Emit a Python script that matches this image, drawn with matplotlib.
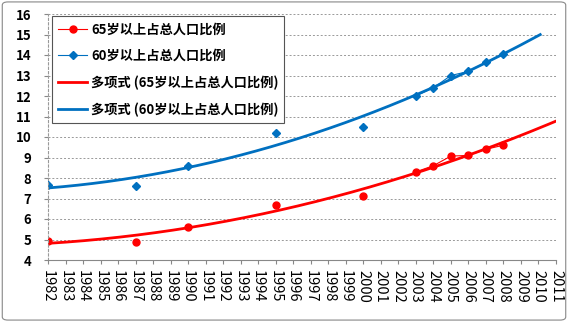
import numpy as np
import matplotlib
matplotlib.use('Agg')
import matplotlib.pyplot as plt
from matplotlib.patches import FancyBboxPatch

plt.rcParams['font.family'] = ['Noto Sans CJK SC', 'DejaVu Sans']

# data (percent of total population), NaN = no value for that year
years = list(range(1982, 2009))
obs_years = [1982, 1987, 1990, 1995, 2000, 2003, 2004, 2005, 2006, 2007, 2008]
pct65 = [4.95, 4.9, 5.6, 6.7, 7.1, 8.3, 8.6, 9.07, 9.1, 9.4, 9.6]
pct60 = [7.65, 7.6, 8.6, 10.2, 10.5, 12.0, 12.4, 13.0, 13.2, 13.65, 14.05]
label65 = '65岁以上占总人口比例'
label60 = '60岁以上占总人口比例'
xticks = list(range(1982, 2012))
yticks = list(range(4, 17))

red = '#FF0000'
blue = '#0070C0'

def fill(vals):
    s = np.full(len(years), np.nan)
    for y, v in zip(obs_years, vals):
        s[years.index(y)] = v
    return s

fig = plt.figure(figsize=(5.68, 3.22), dpi=100)
ax = fig.add_axes([48/568, 1-260/322, 508/568, 246/322])

ax.plot(years, fill(pct65), color=red, lw=0.8, marker='o', ms=5, label=label65)
ax.plot(years, fill(pct60), color=blue, lw=0.8, marker='D', ms=4.2, label=label60)

# 2nd order polynomial trend lines (forecast forward)
c65 = np.polyfit(obs_years, pct65, 2)
c60 = np.polyfit(obs_years, pct60, 2)
xt65 = np.linspace(1982, 2011, 200)
xt60 = np.linspace(1982, 2010.1, 200)
ax.plot(xt65, np.polyval(c65, xt65), color=red, lw=2, label='多项式 (' + label65 + ')')
ax.plot(xt60, np.polyval(c60, xt60), color=blue, lw=2, label='多项式 (' + label60 + ')')

ax.set_xlim(1982, 2011)
ax.set_ylim(4, 16)
ax.set_xticks(xticks)
ax.set_xticklabels([str(x) for x in xticks], rotation=270, fontsize=10.5)
ax.set_yticks(yticks)
ax.set_yticklabels([str(y) for y in yticks], fontsize=9.5, fontweight='bold')
ax.grid(axis='y', color='#999999', ls=(0, (2, 2)), lw=0.7)
for s in ['top', 'right']:
    ax.spines[s].set_visible(False)
ax.spines['left'].set_color('#999999')
ax.spines['left'].set_linestyle((0, (2, 2)))
ax.spines['bottom'].set_color('#888888')
ax.tick_params(axis='x', length=3, color='#888888', pad=4)
ax.tick_params(axis='y', length=3, color='#888888', pad=9)

leg = ax.legend(loc='upper left', bbox_to_anchor=(0.008, 0.99), fancybox=False,
                edgecolor='#555555', framealpha=1, prop={'size': 9.5, 'weight': 'bold'},
                labelspacing=0.95, handlelength=2.2, handletextpad=0.3, borderpad=0.45,
                borderaxespad=0)
leg.get_frame().set_linewidth(0.8)

fig.patches.append(FancyBboxPatch((0.004, 0.006), 0.992, 0.988, boxstyle='round,pad=0,rounding_size=0.01',
                                  transform=fig.transFigure, fill=False, ec='#888888', lw=0.8))

fig.savefig('out.png', dpi=100)
